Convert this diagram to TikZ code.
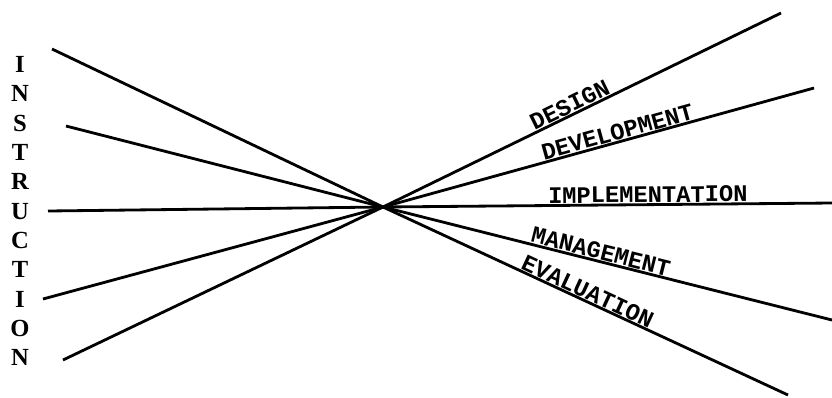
\documentclass[tikz,border=0pt]{standalone}
\usepackage{fontspec}
\setmainfont{Liberation Serif}
\setmonofont{Liberation Mono}

\begin{document}
\begin{tikzpicture}[x=0.02cm,y=-0.02cm,line width=1.6pt,
  phase/.style={sloped,above,inner sep=0.3pt,font=\ttfamily\bfseries\fontsize{13.5}{14}\selectfont}]
  \useasboundingbox (0,0) rectangle (832,397);

  % Crossing point
  \coordinate (x) at (383,207);

  % Left ends
  \coordinate (l1) at (52,49);
  \coordinate (l2) at (66,126);
  \coordinate (l3) at (48,211);
  \coordinate (l4) at (43,299);
  \coordinate (l5) at (63,360);

  % Right ends
  \coordinate (design)  at (781,13);
  \coordinate (devel)   at (814,88);
  \coordinate (implem)  at (832,203);
  \coordinate (manage)  at (832,320);
  \coordinate (evalu)   at (788,395);

  % Vertical label
  \node[font=\bfseries\fontsize{14}{16.7}\selectfont,align=center] (instruction) at (20,211)
    {I\\N\\S\\T\\R\\U\\C\\T\\I\\O\\N};

  % Lines in
  \draw (l1) -- (x);
  \draw (l2) -- (x);
  \draw (l3) -- (x);
  \draw (l4) -- (x);
  \draw (l5) -- (x);

  % Lines out
  \draw (x) -- node[phase,pos=0.48] (designlbl) {DESIGN} (design);
  \draw (x) -- node[phase,pos=0.55] (devellbl) {DEVELOPMENT} (devel);
  \draw (x) -- node[phase,pos=0.59] (implemlbl) {IMPLEMENTATION} (implem);
  \draw (x) -- node[phase,pos=0.48] (managelbl) {MANAGEMENT} (manage);
  \draw (x) -- node[phase,pos=0.495] (evalulbl) {EVALUATION} (evalu);
\end{tikzpicture}
\end{document}
